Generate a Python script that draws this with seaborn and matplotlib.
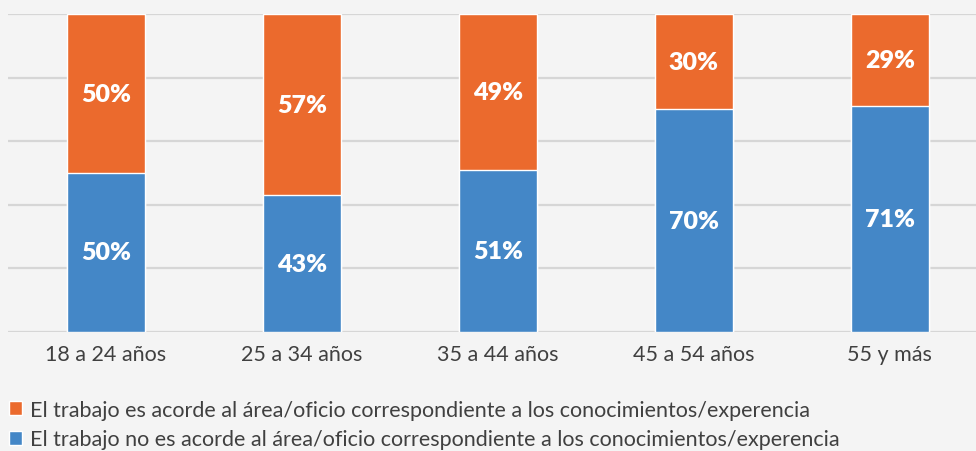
import matplotlib
matplotlib.use("Agg")
import matplotlib.pyplot as plt
import seaborn as sns
import pandas as pd
from matplotlib.patches import Patch

# Data
categorias = ["18 a 24 años", "25 a 34 años", "35 a 44 años", "45 a 54 años", "55 y más"]
acorde = [50, 57, 49, 30, 29]
no_acorde = [50, 43, 51, 70, 71]
serie_acorde = "El trabajo es acorde al área/oficio correspondiente a los conocimientos/experencia"
serie_no_acorde = "El trabajo no es acorde al área/oficio correspondiente a los conocimientos/experencia"

naranja = "#EB6A2D"
azul = "#4487C7"
fondo = "#F4F4F4"

sns.set_theme(style="white")
plt.rcParams["font.family"] = ["Lato", "DejaVu Sans"]

df = pd.DataFrame({"cat": categorias, "acorde": acorde, "no_acorde": no_acorde})
df["total"] = df["acorde"] + df["no_acorde"]

fig = plt.figure(figsize=(9.76, 4.52), dpi=100, facecolor=fondo)
ax = fig.add_axes([0.0082, 0.2633, 1.004, 0.7035])
ax.set_facecolor(fondo)

# orange drawn to the full height, blue segment on top of it
sns.barplot(data=df, x="cat", y="total", color=naranja, width=0.40,
            saturation=1, ax=ax, zorder=3)
sns.barplot(data=df, x="cat", y="no_acorde", color=azul, width=0.40,
            saturation=1, ax=ax, zorder=3)

# value labels
for i, row in df.iterrows():
    ax.text(i, row["no_acorde"] / 2, f"{row['no_acorde']}%", ha="center", va="center",
            color="white", fontsize=18, fontweight="heavy", zorder=4)
    ax.text(i, row["no_acorde"] + row["acorde"] / 2, f"{row['acorde']}%", ha="center",
            va="center", color="white", fontsize=18, fontweight="heavy", zorder=4)

ax.set_ylim(0, 100)
ax.set_xlim(-0.5, 4.5)
ax.set_yticks([0, 20, 40, 60, 80, 100])
ax.set_yticklabels([])
ax.yaxis.grid(True, color="#D6D6D6", linewidth=1.6, zorder=0)
ax.tick_params(axis="y", length=0)
ax.tick_params(axis="x", length=0, labelsize=15.5, labelcolor="#404040", pad=9)
ax.set_xlabel("")
ax.set_ylabel("")
for s in ax.spines.values():
    s.set_visible(False)

handles = [Patch(facecolor=naranja, label=serie_acorde),
           Patch(facecolor=azul, label=serie_no_acorde)]
fig.legend(handles=handles, loc="lower left", bbox_to_anchor=(0.0092, 0.004),
           frameon=False, fontsize=15.5, labelcolor="#404040",
           handlelength=0.62, handleheight=0.62, handletextpad=0.37,
           labelspacing=0.45, borderaxespad=0, borderpad=0)

fig.savefig("out.png", dpi=100, facecolor=fondo)
